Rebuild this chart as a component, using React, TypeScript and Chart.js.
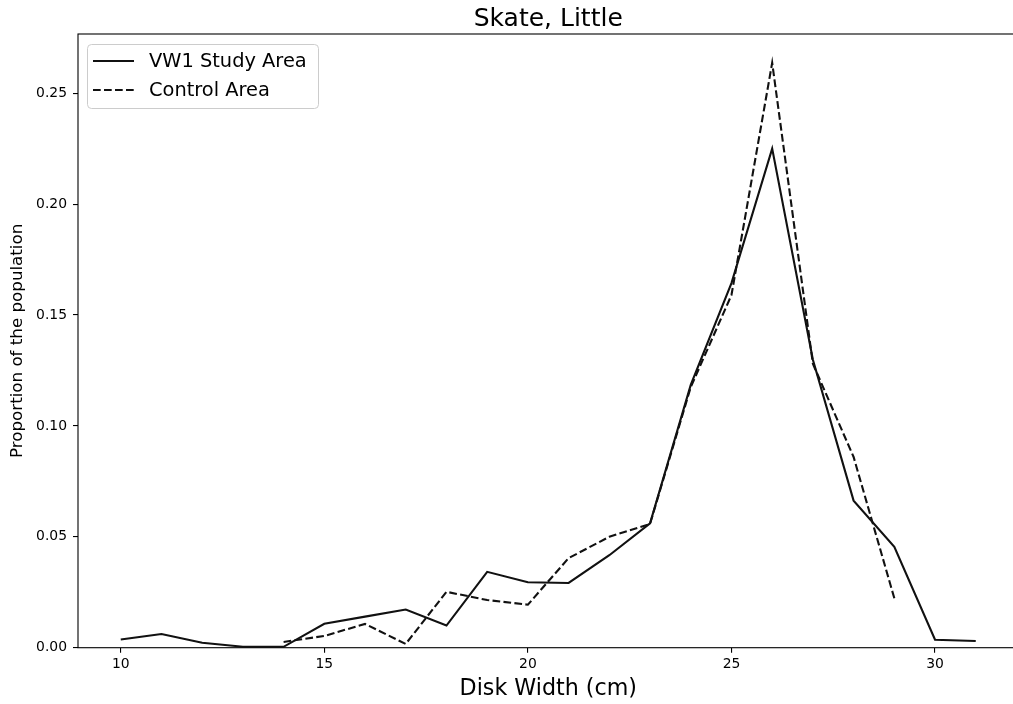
import React, { useEffect, useRef } from "react";
import { Chart, registerables } from "chart.js";

Chart.register(...registerables);

const TITLE = "Skate, Little";
const X_LABEL = "Disk Width (cm)";
const Y_LABEL = "Proportion of the population";

const STUDY_LABEL = "VW1 Study Area";
const STUDY_X = [10, 11, 12, 13, 14, 15, 16, 17, 18, 19, 20, 21, 22, 23, 24, 25, 26, 27, 28, 29, 30, 31];
const STUDY_Y = [0.0037, 0.0062, 0.0022, 0.0004, 0.0004, 0.0108, 0.014, 0.0172, 0.01, 0.0342, 0.0295, 0.0292, 0.0417, 0.0561, 0.1185, 0.1644, 0.225, 0.1298, 0.0663, 0.0455, 0.0036, 0.003];

const CONTROL_LABEL = "Control Area";
const CONTROL_X = [14, 15, 16, 17, 18, 19, 20, 21, 22, 23, 24, 25, 26, 27, 28, 29];
const CONTROL_Y = [0.0026, 0.0053, 0.0107, 0.0017, 0.0252, 0.0215, 0.0194, 0.0404, 0.05, 0.0558, 0.1175, 0.159, 0.2637, 0.128, 0.086, 0.0223];

const X_TICKS = [10, 15, 20, 25, 30];
const Y_TICKS = [0, 0.05, 0.1, 0.15, 0.2, 0.25];

const X_MIN = 8.95;
const X_MAX = 32.05;
const Y_MIN = 0;
const Y_MAX = 0.2767;

const FONT = "'DejaVu Sans', sans-serif";
const INK = "#000000";

const decorPlugin = {
  id: "decor",
  afterDraw(chart: any) {
    const { ctx, chartArea } = chart;
    const { left, right, top, bottom } = chartArea;
    ctx.save();
    // spines
    ctx.strokeStyle = INK;
    ctx.lineWidth = 1.1;
    ctx.strokeRect(left, top, right - left, bottom - top);

    // title
    ctx.fillStyle = INK;
    ctx.textAlign = "center";
    ctx.textBaseline = "alphabetic";
    ctx.font = `25px ${FONT}`;
    ctx.fillText(TITLE, (left + right) / 2, 25.5);

    // x label
    ctx.font = `22.2px ${FONT}`;
    ctx.fillText(X_LABEL, (left + right) / 2, 695);

    // y label
    ctx.save();
    ctx.translate(18, (top + bottom) / 2);
    ctx.rotate(-Math.PI / 2);
    ctx.font = `16.7px ${FONT}`;
    ctx.textBaseline = "middle";
    ctx.fillText(Y_LABEL, 0, 0);
    ctx.restore();

    // legend
    const bx = 87.5, by = 44.5, bw = 231, bh = 64, r = 4;
    ctx.beginPath();
    ctx.moveTo(bx + r, by);
    ctx.lineTo(bx + bw - r, by);
    ctx.quadraticCurveTo(bx + bw, by, bx + bw, by + r);
    ctx.lineTo(bx + bw, by + bh - r);
    ctx.quadraticCurveTo(bx + bw, by + bh, bx + bw - r, by + bh);
    ctx.lineTo(bx + r, by + bh);
    ctx.quadraticCurveTo(bx, by + bh, bx, by + bh - r);
    ctx.lineTo(bx, by + r);
    ctx.quadraticCurveTo(bx, by, bx + r, by);
    ctx.closePath();
    ctx.fillStyle = "rgba(255,255,255,0.8)";
    ctx.fill();
    ctx.strokeStyle = "#cccccc";
    ctx.lineWidth = 1;
    ctx.stroke();

    const rows = [61, 90];
    chart.data.datasets.forEach((ds: any, i: number) => {
      const y = rows[i];
      ctx.beginPath();
      ctx.setLineDash(ds.borderDash || []);
      ctx.strokeStyle = ds.borderColor;
      ctx.lineWidth = ds.borderWidth;
      ctx.moveTo(93, y);
      ctx.lineTo(134, y);
      ctx.stroke();
      ctx.setLineDash([]);
      ctx.fillStyle = INK;
      ctx.font = `19.4px ${FONT}`;
      ctx.textAlign = "left";
      ctx.textBaseline = "middle";
      ctx.fillText(ds.label, 149, y + 1);
    });
    ctx.restore();
  },
};

export default function App() {
  const ref = useRef<HTMLCanvasElement | null>(null);

  useEffect(() => {
    if (!ref.current) return;
    const chart = new Chart(ref.current, {
      type: "line",
      data: {
        datasets: [
          {
            label: STUDY_LABEL,
            data: STUDY_X.map((x, i) => ({ x, y: STUDY_Y[i] })),
            borderColor: "#111111",
            borderWidth: 2.1,
            pointRadius: 0,
            fill: false,
            tension: 0,
          },
          {
            label: CONTROL_LABEL,
            data: CONTROL_X.map((x, i) => ({ x, y: CONTROL_Y[i] })),
            borderColor: "#111111",
            borderWidth: 2.1,
            borderDash: [7.7, 3.3],
            pointRadius: 0,
            fill: false,
            tension: 0,
          },
        ],
      },
      options: {
        animation: false,
        responsive: false,
        maintainAspectRatio: false,
        layout: { padding: { top: 34, right: 11.5, left: 0, bottom: 0 } },
        plugins: {
          legend: { display: false },
          title: { display: false },
          tooltip: { enabled: false },
        },
        scales: {
          x: {
            type: "linear",
            min: X_MIN,
            max: X_MAX,
            afterBuildTicks: (s: any) => {
              s.ticks = X_TICKS.map((v) => ({ value: v }));
            },
            afterFit: (s: any) => {
              s.height = 56.3;
            },
            ticks: {
              color: INK,
              font: { family: FONT, size: 13.9 },
              padding: 3,
              maxRotation: 0,
              autoSkip: false,
              callback: (v: any) => String(v),
            },
            grid: {
              drawOnChartArea: false,
              drawTicks: true,
              tickLength: 5,
              color: INK,
              lineWidth: 1.1,
            },
            border: { display: false },
          },
          y: {
            type: "linear",
            min: Y_MIN,
            max: Y_MAX,
            afterBuildTicks: (s: any) => {
              s.ticks = Y_TICKS.map((v) => ({ value: v }));
            },
            afterFit: (s: any) => {
              s.width = 78;
            },
            ticks: {
              color: INK,
              font: { family: FONT, size: 13.9 },
              padding: 6,
              autoSkip: false,
              callback: (v: any) => Number(v).toFixed(2),
            },
            grid: {
              drawOnChartArea: false,
              drawTicks: true,
              tickLength: 5,
              color: INK,
              lineWidth: 1.1,
            },
            border: { display: false },
          },
        },
      },
      plugins: [decorPlugin],
    });
    return () => chart.destroy();
  }, []);

  return (
    <div
      style={{
        position: "absolute",
        left: 0,
        top: 0,
        width: 1013,
        height: 704,
        overflow: "hidden",
        background: "#ffffff",
      }}
    >
      <canvas ref={ref} width={1030} height={704} style={{ display: "block", width: 1030, height: 704 }} />
    </div>
  );
}
